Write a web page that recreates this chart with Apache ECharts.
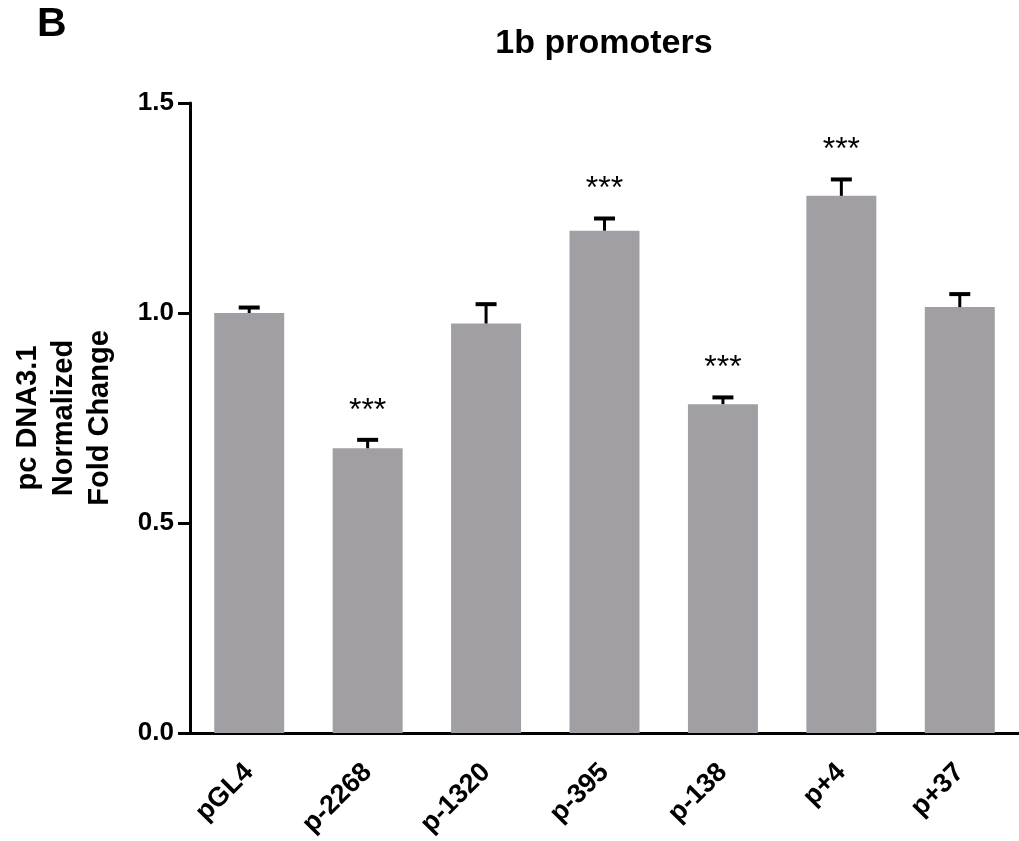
<!DOCTYPE html>
<html>
<head>
<meta charset="utf-8">
<script src="https://cdn.jsdelivr.net/npm/echarts@6/dist/echarts.min.js"></script>
<style>
html,body{margin:0;padding:0;background:#fff;}
#chart{width:1019px;height:841px;}
</style>
</head>
<body>
<div id="chart"></div>
<script>
var categories = ['pGL4', 'p-2268', 'p-1320', 'p-395', 'p-138', 'p+4', 'p+37'];
var means = [1.000, 0.678, 0.975, 1.196, 0.783, 1.279, 1.014];
var errors = [0.013, 0.020, 0.046, 0.029, 0.016, 0.039, 0.031];
var significance = ['', '***', '', '***', '***', '***', ''];
var yTicks = [0, 0.5, 1.0, 1.5];

var FONT = 'Liberation Sans, Arial, Helvetica, sans-serif';
var chart = echarts.init(document.getElementById('chart'), null, {renderer: 'canvas'});

var errData = categories.map(function (c, i) { return [i, means[i], errors[i]]; });

chart.setOption({
  animation: false,
  backgroundColor: '#ffffff',
  title: {
    text: '1b promoters',
    left: 599, top: 22, textAlign: 'center',
    textStyle: {fontFamily: FONT, fontWeight: 'bold', fontSize: 34, color: '#000'}
  },
  graphic: [{
    type: 'text', left: 37, top: 4,
    style: {text: 'B', font: 'bold 41px ' + FONT, fill: '#000'}
  }],
  grid: {left: 190, right: -8, top: 103, bottom: 108, containLabel: false},
  xAxis: {
    type: 'category',
    data: categories,
    axisLine: {lineStyle: {color: '#000', width: 3}},
    axisTick: {alignWithLabel: true, length: 12, lineStyle: {color: '#000', width: 3}},
    axisLabel: {rotate: 45, margin: 35, color: '#000', fontFamily: FONT, fontWeight: 'bold', fontSize: 27}
  },
  yAxis: {
    type: 'value', min: 0, max: 1.5, interval: 0.5,
    name: 'pc DNA3.1\nNormalized\nFold Change',
    nameLocation: 'middle', nameRotate: 90, nameGap: 72,
    nameTextStyle: {fontFamily: FONT, fontWeight: 'bold', fontSize: 29, color: '#000', lineHeight: 36},
    axisLine: {show: true, lineStyle: {color: '#000', width: 3}},
    axisTick: {show: true, length: 12, lineStyle: {color: '#000', width: 3}},
    splitLine: {show: false},
    axisLabel: {
      margin: 16, color: '#000', fontFamily: FONT, fontWeight: 'bold', fontSize: 26,
      formatter: function (v) { return yTicks.indexOf(v) >= 0 ? v.toFixed(1) : ''; }
    }
  },
  series: [{
    type: 'bar',
    data: means,
    barWidth: 70,
    itemStyle: {color: '#a19fa4'},
    z: 2
  }, {
    type: 'custom',
    data: errData,
    z: 3,
    renderItem: function (params, api) {
      var i = api.value(0), m = api.value(1), e = api.value(2);
      var base = api.coord([i, m]);
      var top = api.coord([i, m + e]);
      var x = base[0];
      var children = [
        {type: 'line', shape: {x1: x, y1: base[1], x2: x, y2: top[1]}, style: {stroke: '#000', lineWidth: 3}},
        {type: 'line', shape: {x1: x - 10.5, y1: top[1], x2: x + 10.5, y2: top[1]}, style: {stroke: '#000', lineWidth: 4}}
      ];
      var s = significance[params.dataIndex];
      if (s) {
        children.push({
          type: 'text',
          style: {text: s, x: x, y: top[1] - 29, textAlign: 'center', textVerticalAlign: 'middle',
                  font: '32px ' + FONT, fill: '#000'}
        });
      }
      return {type: 'group', children: children};
    }
  }]
});
</script>
</body>
</html>
